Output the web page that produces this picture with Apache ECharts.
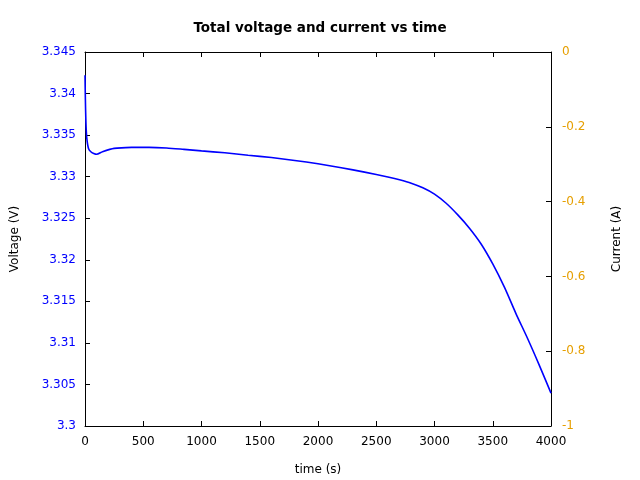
<!DOCTYPE html>
<html>
<head>
<meta charset="utf-8">
<script src="https://cdn.jsdelivr.net/npm/echarts@6/dist/echarts.min.js"></script>
<style>html,body{margin:0;padding:0;background:#fff}#c{width:640px;height:480px}</style>
</head>
<body>
<div id="c"></div>
<script>
const titleText = 'Total voltage and current vs time';
const timeS = [0, 3, 8, 15, 30, 50, 75, 100, 150, 250, 400, 550, 700, 850, 1000, 1200, 1400, 1600, 1800, 2000, 2200, 2400, 2600, 2700, 2800, 2900, 3000, 3100, 3200, 3300, 3400, 3500, 3600, 3700, 3800, 3900, 4000];
const voltage = [3.3422, 3.3395, 3.3365, 3.3347, 3.3334, 3.3330, 3.3328, 3.3327, 3.3330, 3.3334, 3.33352, 3.33353, 3.33345, 3.33328, 3.33310, 3.33287, 3.33258, 3.33230, 3.33195, 3.33155, 3.33108, 3.33055, 3.32995, 3.32962, 3.32922, 3.32866, 3.3279, 3.3268, 3.3254, 3.3238, 3.3219, 3.3195, 3.3167, 3.3135, 3.3105, 3.3073, 3.30396];
const xMin = 0, xMax = 4000, xStep = 500;
const vMin = 3.3, vMax = 3.345, vStep = 0.005;
const iMin = -1, iMax = 0, iStep = 0.2;

const font = 'DejaVu Sans';
const chart = echarts.init(document.getElementById('c'), null, {renderer: 'canvas'});
const lineAxis = {show: true, onZero: false, lineStyle: {color: '#000', width: 1}};
const tick = {show: true, inside: true, length: 5, lineStyle: {color: '#000', width: 1}};
chart.setOption({
  animation: false,
  backgroundColor: '#fff',
  title: {text: titleText, left: 'center', top: 16, textStyle: {fontFamily: font, fontSize: 13.5, fontWeight: 'bold', color: '#000'}},
  grid: {left: 85, right: 89, top: 52, bottom: 54, containLabel: false, outerBoundsMode: 'none'},
  xAxis: [{
    type: 'value', min: xMin, max: xMax, interval: xStep, position: 'bottom',
    name: 'time (s)', nameLocation: 'middle', nameGap: 38,
    nameTextStyle: {fontFamily: font, fontSize: 12, color: '#000'},
    axisLine: lineAxis, axisTick: tick,
    axisLabel: {fontFamily: font, fontSize: 12, color: '#000', margin: 10, formatter: v => String(v)},
    splitLine: {show: false}
  }, {
    type: 'value', min: xMin, max: xMax, interval: xStep, position: 'top',
    axisLine: lineAxis, axisTick: tick,
    axisLabel: {show: false}, splitLine: {show: false}
  }],
  yAxis: [{
    type: 'value', min: vMin, max: vMax, interval: vStep, position: 'left',
    name: 'Voltage (V)', nameLocation: 'middle', nameGap: 64, nameRotate: 90,
    nameTextStyle: {fontFamily: font, fontSize: 12, color: '#000'},
    axisLine: lineAxis, axisTick: tick,
    axisLabel: {fontFamily: font, fontSize: 12, color: '#0000ff', margin: 9, formatter: v => String(+v.toFixed(3))},
    splitLine: {show: false}
  }, {
    type: 'value', min: iMin, max: iMax, interval: iStep, position: 'right', alignTicks: false,
    name: 'Current (A)', nameLocation: 'middle', nameGap: 60, nameRotate: 90,
    nameTextStyle: {fontFamily: font, fontSize: 12, color: '#000'},
    axisLine: lineAxis, axisTick: tick,
    axisLabel: {fontFamily: font, fontSize: 12, color: '#e69f00', margin: 11, formatter: v => String(+v.toFixed(1))},
    splitLine: {show: false}
  }],
  series: [{
    name: 'Voltage', type: 'line', xAxisIndex: 0, yAxisIndex: 0,
    data: timeS.map((t, i) => [t, voltage[i]]),
    showSymbol: false, smooth: 0.25,
    lineStyle: {color: '#0000ff', width: 1.6}, clip: true
  }]
});
</script>
</body>
</html>
